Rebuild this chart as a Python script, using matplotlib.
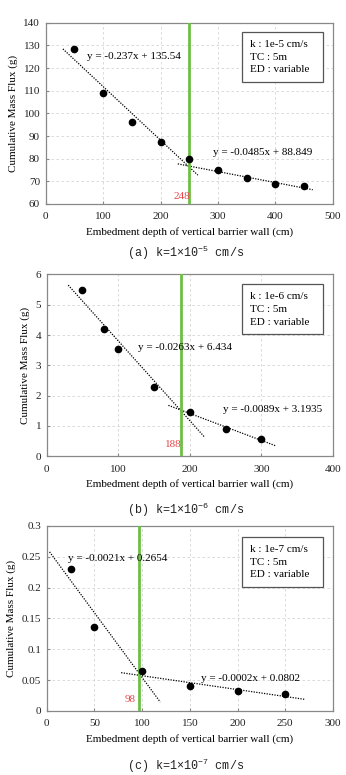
import matplotlib
matplotlib.use("Agg")
import matplotlib.pyplot as plt
from matplotlib.patches import Rectangle
import numpy as np

plt.rcParams['font.family'] = ['Liberation Serif', 'DejaVu Serif']
plt.rcParams['mathtext.fontset'] = 'custom'
plt.rcParams['mathtext.rm'] = 'Liberation Mono'
plt.rcParams['mathtext.it'] = 'Liberation Mono'

# ---- Panel (a) k = 1e-5 ----
xa = [50, 100, 150, 200, 250, 300, 350, 400, 450]
ya = [128.5, 109, 96.2, 87.3, 80, 75, 71.3, 69, 68]
a_fit1 = (-0.237, 135.54); a_fit1_range = (30, 265)
a_fit2 = (-0.0485, 88.849); a_fit2_range = (230, 465)
a_cross = 250; a_cross_label = "248"
a_eq1 = "y = -0.237x + 135.54"; a_eq2 = "y = -0.0485x + 88.849"
a_box = ["k : 1e-5 cm/s", "TC : 5m", "ED : variable"]
a_xticks = [0, 100, 200, 300, 400, 500]
a_yticks = [60, 70, 80, 90, 100, 110, 120, 130, 140]
a_caption = r"(a) k=1×10$^{-5}$ cm/s"

# ---- Panel (b) k = 1e-6 ----
xb = [50, 80, 100, 150, 200, 250, 300]
yb = [5.5, 4.2, 3.55, 2.28, 1.45, 0.9, 0.57]
b_fit1 = (-0.0263, 6.434); b_fit1_range = (30, 220)
b_fit2 = (-0.0089, 3.1935); b_fit2_range = (170, 320)
b_cross = 187; b_cross_label = "188"
b_eq1 = "y = -0.0263x + 6.434"; b_eq2 = "y = -0.0089x + 3.1935"
b_box = ["k : 1e-6 cm/s", "TC : 5m", "ED : variable"]
b_xticks = [0, 100, 200, 300, 400]
b_yticks = [0, 1, 2, 3, 4, 5, 6]
b_caption = r"(b) k=1×10$^{-6}$ cm/s"

# ---- Panel (c) k = 1e-7 ----
xc = [25, 50, 100, 150, 200, 250]
yc = [0.23, 0.136, 0.065, 0.04, 0.033, 0.028]
c_fit1 = (-0.0021, 0.2643); c_fit1_range = (3, 119)
c_fit2 = (-0.000225, 0.0797); c_fit2_range = (78, 271)
c_cross = 97; c_cross_label = "98"
c_eq1 = "y = -0.0021x + 0.2654"; c_eq2 = "y = -0.0002x + 0.0802"
c_box = ["k : 1e-7 cm/s", "TC : 5m", "ED : variable"]
c_xticks = [0, 50, 100, 150, 200, 250, 300]
c_yticks = [0, 0.05, 0.1, 0.15, 0.2, 0.25, 0.3]
c_yticklabels = ["0", "0.05", "0.1", "0.15", "0.2", "0.25", "0.3"]
c_caption = r"(c) k=1×10$^{-7}$ cm/s"

GREEN = '#6cbf45'
RED = '#e8474a'
FIG_W, FIG_H = 346, 775

fig = plt.figure(figsize=(FIG_W / 100, FIG_H / 100), dpi=100)

panels = [
    dict(pos=[0.132, 0.7368, 0.830, 0.2339], x=xa, y=ya, f1=a_fit1, r1=a_fit1_range,
         f2=a_fit2, r2=a_fit2_range, cross=a_cross, clab=a_cross_label, clab_xy=(222, 63.5),
         eq1=a_eq1, eq1_xy=(72, 125.3), eq2=a_eq2, eq2_xy=(291, 82.5), box=a_box,
         box_top=32, xt=a_xticks, yt=a_yticks, ytl=None, cap=a_caption, cap_y=0.6735),
    dict(pos=[0.135, 0.4112, 0.8275, 0.2348], x=xb, y=yb, f1=b_fit1, r1=b_fit1_range,
         f2=b_fit2, r2=b_fit2_range, cross=b_cross, clab=b_cross_label, clab_xy=(165, 0.4),
         eq1=b_eq1, eq1_xy=(128, 3.58), eq2=b_eq2, eq2_xy=(246, 1.53), box=b_box,
         box_top=284.3, xt=b_xticks, yt=b_yticks, ytl=None, cap=b_caption, cap_y=0.342),
    dict(pos=[0.135, 0.0826, 0.8275, 0.2387], x=xc, y=yc, f1=c_fit1, r1=c_fit1_range,
         f2=c_fit2, r2=c_fit2_range, cross=c_cross, clab=c_cross_label, clab_xy=(82, 0.019),
         eq1=c_eq1, eq1_xy=(22.6, 0.2476), eq2=c_eq2, eq2_xy=(162, 0.053), box=c_box,
         box_top=536.7, xt=c_xticks, yt=c_yticks, ytl=c_yticklabels, cap=c_caption, cap_y=0.0116),
]

TXT = 8
for p in panels:
    ax = fig.add_axes(p['pos'])
    ax.set_xlim(p['xt'][0], p['xt'][-1])
    ax.set_ylim(p['yt'][0], p['yt'][-1])
    ax.set_xticks(p['xt'])
    ax.set_yticks(p['yt'])
    if p['ytl'] is not None:
        ax.set_yticklabels(p['ytl'])
    ax.grid(True, linestyle=(0, (3, 3)), color='#d4d4d4', linewidth=0.6)
    ax.set_axisbelow(True)
    for s in ax.spines.values():
        s.set_color('#888888')
        s.set_linewidth(0.9)
    ax.tick_params(direction='in', length=2, width=0.8, color='#888888',
                   labelsize=8, labelcolor='#222222')
    ax.tick_params(axis='x', pad=6)
    ax.tick_params(axis='y', pad=4)

    for (m, b), (x0, x1) in [(p['f1'], p['r1']), (p['f2'], p['r2'])]:
        xs = np.array([x0, x1])
        ax.plot(xs, m * xs + b, color='black', linestyle=(0, (1, 1.1)), linewidth=0.9, zorder=3)

    ax.axvline(p['cross'], color=GREEN, linewidth=2.0, zorder=4)
    ax.plot(p['x'], p['y'], 'o', color='black', markersize=4.5, zorder=5)

    ax.text(*p['clab_xy'], p['clab'], color=RED, fontsize=TXT, ha='left', va='center', zorder=6)
    ax.text(*p['eq1_xy'], p['eq1'], fontsize=TXT, ha='left', va='center', zorder=6)
    ax.text(*p['eq2_xy'], p['eq2'], fontsize=TXT, ha='left', va='center', zorder=6)

    # info box (figure pixel geometry)
    ax_top_px = FIG_H * (1 - p['pos'][1] - p['pos'][3])
    ax_h_px = FIG_H * p['pos'][3]
    ax_l_px = FIG_W * p['pos'][0]
    ax_w_px = FIG_W * p['pos'][2]
    bx0 = (242.3 - ax_l_px) / ax_w_px
    bx1 = (323.3 - ax_l_px) / ax_w_px
    by_top = 1 - (p['box_top'] - ax_top_px) / ax_h_px
    by_bot = 1 - (p['box_top'] + 50 - ax_top_px) / ax_h_px
    ax.add_patch(Rectangle((bx0, by_bot), bx1 - bx0, by_top - by_bot, transform=ax.transAxes,
                           facecolor='white', edgecolor='#555555', linewidth=0.9, zorder=6))
    tx = (250 - ax_l_px) / ax_w_px
    for line, off in zip(p['box'], [12.5, 25.5, 38]):
        ty = 1 - (p['box_top'] + off - ax_top_px) / ax_h_px
        ax.text(tx, ty, line, transform=ax.transAxes, fontsize=TXT, ha='left', va='center', zorder=7)

    ax.set_xlabel("Embedment depth of vertical barrier wall (cm)", fontsize=TXT, labelpad=4)
    ax.set_ylabel("Cumulative Mass Flux (g)", fontsize=TXT, labelpad=4)

    fig.text(0.537, p['cap_y'], p['cap'], fontsize=8.5, ha='center', va='center',
             family=['Liberation Mono', 'DejaVu Sans Mono'], color='#222222')

fig.savefig("out.png", dpi=100)
